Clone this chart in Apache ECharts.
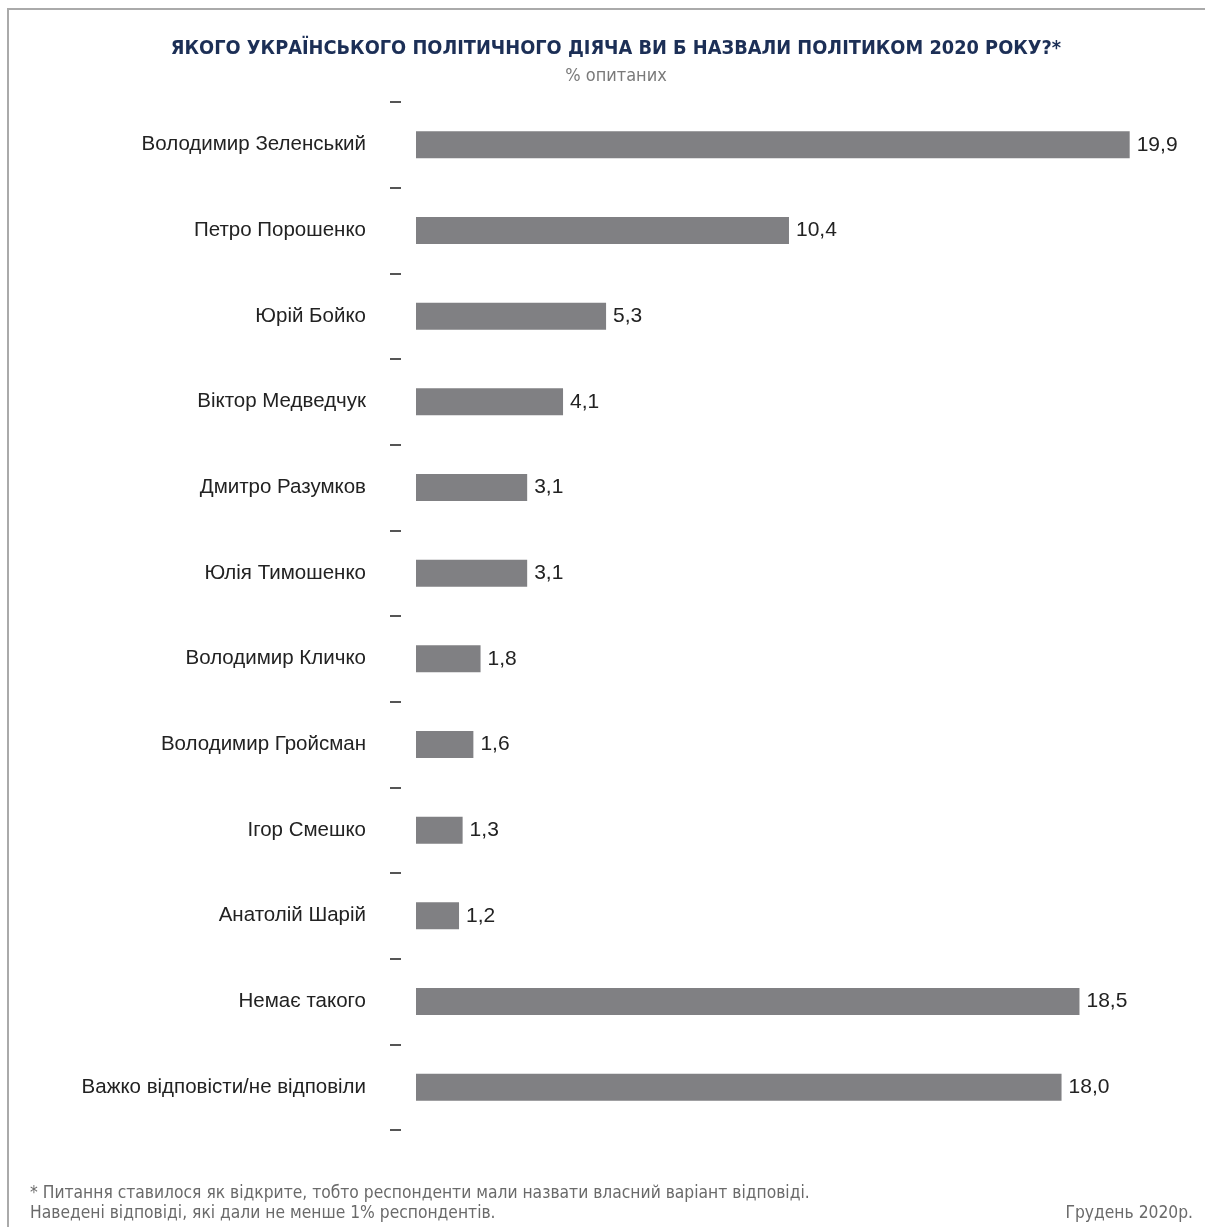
<!DOCTYPE html>
<html><head><meta charset="utf-8">
<script src="https://cdn.jsdelivr.net/npm/echarts@6/dist/echarts.min.js"></script>
<style>html,body{margin:0;padding:0;background:#fff}#c{width:1205px;height:1227px}</style>
</head><body><div id="c"></div>
<script>
const categories = ["Володимир Зеленський","Петро Порошенко","Юрій Бойко","Віктор Медведчук","Дмитро Разумков","Юлія Тимошенко","Володимир Кличко","Володимир Гройсман","Ігор Смешко","Анатолій Шарій","Немає такого","Важко відповісти/не відповіли"];
const values = [19.9,10.4,5.3,4.1,3.1,3.1,1.8,1.6,1.3,1.2,18.5,18.0];
const titleText = "ЯКОГО УКРАЇНСЬКОГО ПОЛІТИЧНОГО ДІЯЧА ВИ Б НАЗВАЛИ ПОЛІТИКОМ 2020 РОКУ?*";
const subtitleText = "% опитаних";
const footnote1 = "* Питання ставилося як відкрите, тобто респонденти мали назвати власний варіант відповіді.";
const footnote2 = "Наведені відповіді, які дали не менше 1% респондентів.";
const dateText = "Грудень 2020р.";

const chart = echarts.init(document.getElementById('c'));
const narrow = '"Liberation Sans Narrow","DejaVu Sans Condensed","Roboto",sans-serif';
const main = '"Liberation Sans","Helvetica",Arial,sans-serif';
chart.setOption({
  animation:false,
  title:[
    {text:titleText,left:611,textAlign:'center',top:34,textStyle:{fontFamily:narrow,fontWeight:'bold',fontSize:19.8,color:'#1c2f56'}},
    {text:subtitleText,left:611,textAlign:'center',top:62,textStyle:{fontFamily:narrow,fontWeight:'normal',fontSize:18,color:'#7a7a7a'}}
  ],
  grid:{left:416,top:102,width:789,height:1028,containLabel:false},
  xAxis:{type:'value',min:0,max:22,show:false},
  yAxis:{type:'category',data:categories,inverse:true,offset:15,
    axisLine:{show:false,onZero:false},
    axisTick:{show:true,length:11,alignWithLabel:false,lineStyle:{color:'#555',width:2}},
    axisLabel:{margin:35,fontFamily:main,fontSize:20.5,color:'#222'},
    splitLine:{show:false}
  },
  series:[{type:'bar',data:values,barWidth:27,itemStyle:{color:'#808083'},
    label:{show:true,position:'right',distance:7,fontFamily:main,fontSize:21,color:'#222',
      formatter:p=>p.value.toFixed(1).replace('.',',')}}],
  graphic:[
    {type:'line',shape:{x1:7,y1:9,x2:1205,y2:9},style:{stroke:'#aaaaaa',lineWidth:2}},
    {type:'line',shape:{x1:8,y1:9,x2:8,y2:1227},style:{stroke:'#aaaaaa',lineWidth:2}},
    {type:'text',left:30,top:1185,style:{text:footnote1,font:'17.3px '+narrow,fill:'#6a6a6a'}},
    {type:'text',left:30,top:1205,style:{text:footnote2,font:'17.3px '+narrow,fill:'#6a6a6a'}},
    {type:'text',right:12,top:1205,style:{text:dateText,font:'17.3px '+narrow,fill:'#6a6a6a'}}
  ]
});
</script></body></html>
